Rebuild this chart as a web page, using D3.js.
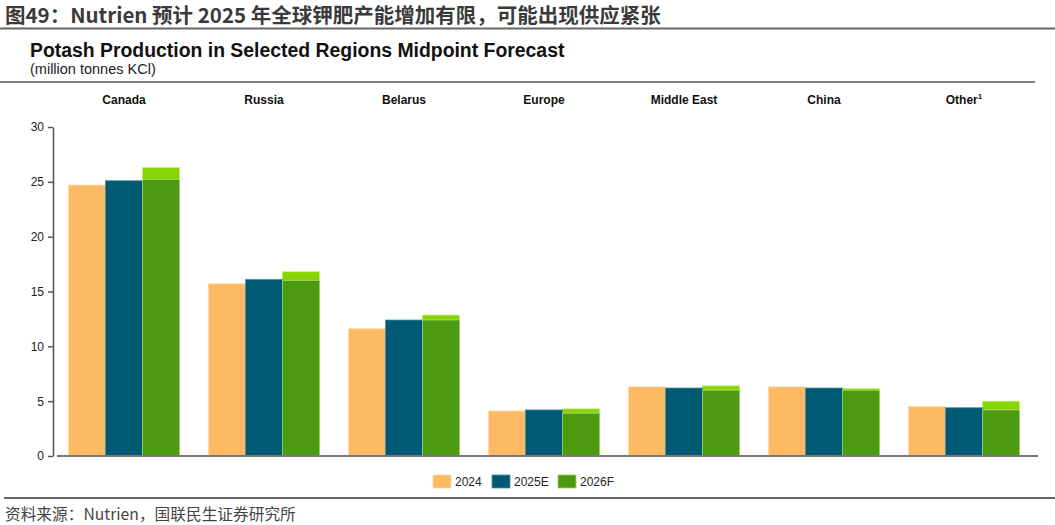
<!DOCTYPE html>
<html lang="zh">
<head>
<meta charset="UTF-8">
<title>Potash Production</title>
<style>
  body { margin: 0; background: #fff; }
  svg { display: block; }
  .cn { font-family: "Noto Sans CJK SC", sans-serif; }
  .en { font-family: "Liberation Sans", Arial, sans-serif; }
  .axis text { font-family: "Liberation Sans", Arial, sans-serif; font-size: 12px; fill: #222; }
  .axis path, .axis line { stroke: #555; stroke-width: 1.5px; }
</style>
</head>
<body>
<svg width="1055" height="525"></svg>
<script src="https://d3js.org/d3.v7.min.js"></script>
<script>
// values (million tonnes KCl)
const regions = ["Canada", "Russia", "Belarus", "Europe", "Middle East", "China", "Other"];
const series = ["2024", "2025E", "2026F"];
const v2024 = [24.7, 15.7, 11.6, 4.1, 6.3, 6.3, 4.5];
const v2025 = [25.1, 16.1, 12.4, 4.2, 6.2, 6.2, 4.4];
const v2026Low = [25.2, 16.0, 12.4, 3.9, 6.0, 6.0, 4.2];
const v2026High = [26.3, 16.8, 12.85, 4.3, 6.4, 6.15, 5.0];
const yTicks = [0, 5, 10, 15, 20, 25, 30];

const colors = { "2024": "#FDBA62", "2025E": "#005A74", "2026F": "#4C9A10", high: "#86D400" };
const strokes = { "2024": "#FFD9A6", "2025E": "#4F8C9E", "2026F": "#9FD066", high: "#C4EE80" };

const svg = d3.select("svg");

// header
svg.append("text").attr("class", "cn")
  .attr("x", 5).attr("y", 23)
  .attr("font-size", 20.5).attr("font-weight", "bold").attr("fill", "#3a3a3a")
  .text("图49：Nutrien 预计 2025 年全球钾肥产能增加有限，可能出现供应紧张");
svg.append("line").attr("x1", 0).attr("x2", 1055).attr("y1", 28.5).attr("y2", 28.5)
  .attr("stroke", "#666").attr("stroke-width", 2);

svg.append("text").attr("class", "en")
  .attr("x", 30).attr("y", 57)
  .attr("font-size", 19.4).attr("font-weight", "bold").attr("fill", "#111")
  .text("Potash Production in Selected Regions Midpoint Forecast");
svg.append("text").attr("class", "en")
  .attr("x", 30).attr("y", 74)
  .attr("font-size", 14.5).attr("fill", "#222")
  .text("(million tonnes KCl)");
svg.append("line").attr("x1", 0).attr("x2", 1035).attr("y1", 82).attr("y2", 82)
  .attr("stroke", "#555").attr("stroke-width", 1.5);

// scales
const x = d3.scaleBand().domain(regions).range([54, 1034])
  .paddingInner(0.207).paddingOuter(0.1035);
const xs = d3.scaleBand().domain(series).range([0, x.bandwidth()]);
const y = d3.scaleLinear().domain([0, 30]).range([456, 127]);

// region labels on top
const labels = svg.append("g").selectAll("text").data(regions).join("text")
  .attr("class", "en")
  .attr("x", d => x(d) + x.bandwidth() / 2)
  .attr("y", 104)
  .attr("text-anchor", "middle")
  .attr("font-size", 12).attr("font-weight", "bold").attr("fill", "#111")
  .text(d => d);
labels.filter(d => d === "Other").append("tspan")
  .attr("font-size", 8).attr("dy", -5).text("1");

// bars
const rows = regions.map((r, i) => ({
  region: r,
  bars: [
    { s: "2024", v: v2024[i] },
    { s: "2025E", v: v2025[i] },
    { s: "2026F", v: v2026Low[i], hi: v2026High[i] }
  ]
}));

const groups = svg.append("g").selectAll("g").data(rows).join("g")
  .attr("transform", d => `translate(${x(d.region)},0)`);

groups.selectAll("rect.hi").data(d => d.bars.filter(b => b.hi != null)).join("rect")
  .attr("class", "hi")
  .attr("x", d => xs(d.s))
  .attr("width", xs.bandwidth())
  .attr("y", d => y(d.hi))
  .attr("height", d => y(d.v) - y(d.hi))
  .attr("fill", colors.high)
  .attr("stroke", strokes.high).attr("stroke-width", 0.8);

groups.selectAll("rect.main").data(d => d.bars).join("rect")
  .attr("class", "main")
  .attr("x", d => xs(d.s))
  .attr("width", xs.bandwidth())
  .attr("y", d => y(d.v))
  .attr("height", d => y(0) - y(d.v))
  .attr("fill", d => colors[d.s])
  .attr("stroke", d => strokes[d.s]).attr("stroke-width", 0.8);

// axes
svg.append("g").attr("class", "axis")
  .attr("transform", "translate(53,0)")
  .call(d3.axisLeft(y).tickValues(yTicks).tickSize(5).tickSizeOuter(0).tickPadding(4));

svg.append("line")
  .attr("x1", 57).attr("x2", 1038).attr("y1", y(0)).attr("y2", y(0))
  .attr("stroke", "#777").attr("stroke-width", 2);

// legend
const legendX = [433, 492, 558];
const legend = svg.append("g").selectAll("g").data(series).join("g")
  .attr("transform", (d, i) => `translate(${legendX[i]},475)`);
legend.append("rect").attr("width", 18).attr("height", 13)
  .attr("fill", d => colors[d]).attr("stroke", d => strokes[d]).attr("stroke-width", 0.8);
legend.append("text").attr("class", "en")
  .attr("x", 22).attr("y", 11)
  .attr("font-size", 12).attr("fill", "#222")
  .text(d => d);

// footer
svg.append("line").attr("x1", 4).attr("x2", 1055).attr("y1", 498).attr("y2", 498)
  .attr("stroke", "#666").attr("stroke-width", 2);
svg.append("text").attr("class", "cn")
  .attr("x", 5).attr("y", 520)
  .attr("font-size", 15.7).attr("fill", "#444")
  .text("资料来源：Nutrien，国联民生证券研究所");
</script>
</body>
</html>
